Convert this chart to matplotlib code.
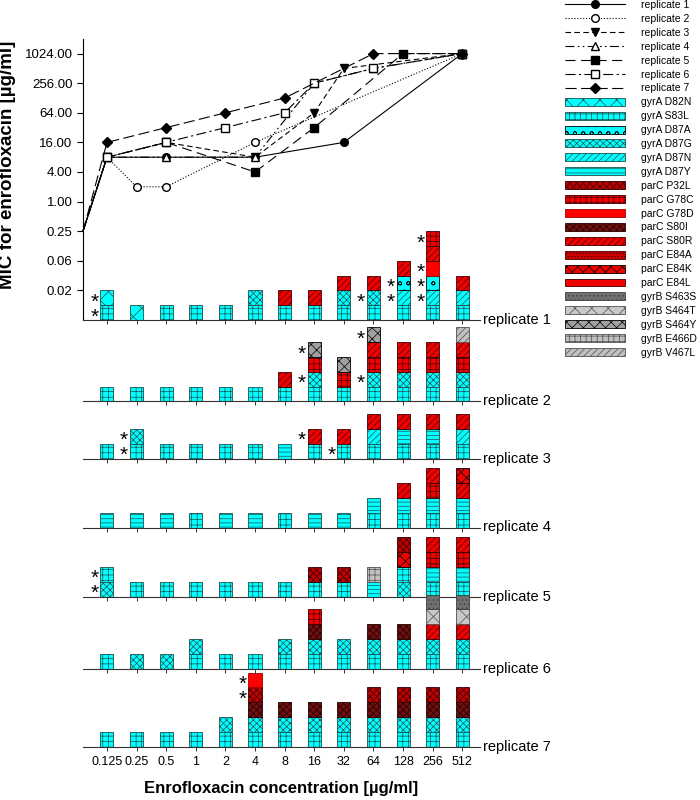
import matplotlib
matplotlib.use('Agg')
import matplotlib.pyplot as plt
import matplotlib.patches as mpatches
from matplotlib.lines import Line2D

plt.rcParams['font.family'] = ['Liberation Sans', 'DejaVu Sans']
plt.rcParams['hatch.linewidth'] = 0.5

# ---- data ----
conc_labels = ['0.125', '0.25', '0.5', '1', '2', '4', '8', '16', '32', '64', '128', '256', '512']
start_mic = 0.25

# MIC for enrofloxacin per replicate: (concentration index, MIC)
mic_x_rep1 = [0, 2, 5, 8, 12]
mic_y_rep1 = [8, 8, 8, 16, 1024]
mic_x_rep2 = [0, 1, 2, 5, 12]
mic_y_rep2 = [8, 2, 2, 16, 1024]
mic_x_rep3 = [0, 2, 5, 7, 8, 12]
mic_y_rep3 = [8, 16, 8, 64, 512, 1024]
mic_x_rep4 = [0, 2, 5, 7, 9, 12]
mic_y_rep4 = [8, 8, 8, 256, 512, 1024]
mic_x_rep5 = [0, 2, 5, 7, 10, 12]
mic_y_rep5 = [8, 16, 4, 32, 1024, 1024]
mic_x_rep6 = [0, 2, 4, 6, 7, 9, 12]
mic_y_rep6 = [8, 16, 32, 64, 256, 512, 1024]
mic_x_rep7 = [0, 2, 4, 6, 9, 12]
mic_y_rep7 = [16, 32, 64, 128, 1024, 1024]

genes = ['gyrA'] * 6 + ['parC'] * 8 + ['gyrB'] * 5
mutations = ['D82N', 'S83L', 'D87A', 'D87G', 'D87N', 'D87Y',
             'P32L', 'G78C', 'G78D', 'S80I', 'S80R', 'E84A', 'E84K', 'E84L',
             'S463S', 'S464T', 'S464Y', 'E466D', 'V467L']

# stacked mutations per concentration, bottom to top
stacks_rep1 = [['S83L', 'D82N'], ['D82N'], ['S83L'], ['S83L'], ['S83L'],
               ['S83L', 'D87G'], ['S83L', 'S80R'], ['S83L', 'S80R'],
               ['S83L', 'D87G', 'S80R'], ['S83L', 'D87G', 'S80R'],
               ['S83L', 'D87N', 'D87A', 'S80R'],
               ['S83L', 'D87N', 'D87A', 'G78D', 'S80R', 'G78C'],
               ['S83L', 'D87N', 'S80R']]
stacks_rep2 = [['S83L'], ['S83L'], ['S83L'], ['S83L'], ['S83L'], ['S83L'],
               ['S83L', 'S80R'], ['S83L', 'D87G', 'G78C', 'S464Y'],
               ['S83L', 'G78C', 'S464Y'], ['S83L', 'D87G', 'G78C', 'S80R', 'S464Y'],
               ['S83L', 'D87G', 'G78C', 'S80R'], ['S83L', 'D87G', 'G78C', 'S80R'],
               ['S83L', 'D87G', 'G78C', 'S80R', 'V467L']]
stacks_rep3 = [['S83L'], ['S83L', 'D87G'], ['S83L'], ['S83L'], ['S83L'], ['S83L'],
               ['D87Y'], ['S83L', 'S80R'], ['S83L', 'S80R'],
               ['S83L', 'D87N', 'S80R'], ['S83L', 'D87Y', 'S80R'],
               ['S83L', 'D87Y', 'S80R'], ['S83L', 'D87N', 'S80R']]
stacks_rep4 = [['D87Y'], ['D87Y'], ['D87Y'], ['S83L'], ['D87Y'], ['D87Y'],
               ['S83L'], ['D87Y'], ['D87Y'], ['S83L', 'D87Y'],
               ['S83L', 'D87Y', 'S80R'], ['S83L', 'D87Y', 'G78C', 'S80R'],
               ['S83L', 'D87Y', 'S80R', 'E84K']]
stacks_rep5 = [['D87G', 'S83L'], ['S83L'], ['S83L'], ['S83L'], ['S83L'], ['S83L'],
               ['S83L'], ['S83L', 'P32L'], ['S83L', 'P32L'], ['D87Y', 'E466D'],
               ['D87G', 'S83L', 'E84K', 'P32L'], ['S83L', 'D87Y', 'G78C', 'S80R'],
               ['S83L', 'D87Y', 'G78C', 'S80R']]
stacks_rep6 = [['S83L'], ['D87G'], ['D87G'], ['S83L', 'D87G'], ['S83L'], ['S83L'],
               ['S83L', 'D87G'], ['S83L', 'D87G', 'S80I', 'G78C'], ['S83L', 'D87G'],
               ['S83L', 'D87G', 'S80I'], ['S83L', 'D87G', 'S80I'],
               ['S83L', 'D87G', 'S80R', 'S464T', 'S463S'],
               ['S83L', 'D87G', 'S80R', 'S464T', 'S463S']]
stacks_rep7 = [['S83L'], ['S83L'], ['S83L'], ['S83L'], ['S83L', 'D87G'],
               ['S83L', 'D87G', 'S80I', 'P32L', 'G78D'],
               ['S83L', 'D87G', 'S80I'], ['S83L', 'D87G', 'S80I'], ['S83L', 'D87G', 'S80I'],
               ['S83L', 'D87G', 'S80I', 'P32L'], ['S83L', 'D87G', 'S80I', 'P32L'],
               ['S83L', 'D87G', 'S80I', 'P32L'], ['S83L', 'D87G', 'S80I', 'P32L']]

# asterisks: (concentration index, segment index)
stars_rep1 = [(0, 0), (0, 1), (9, 1), (10, 1), (10, 2), (11, 1), (11, 2), (11, 3), (11, 5)]
stars_rep2 = [(7, 1), (7, 3), (9, 1), (9, 4)]
stars_rep3 = [(1, 0), (1, 1), (7, 1), (8, 0)]
stars_rep4 = []
stars_rep5 = [(0, 0), (0, 1)]
stars_rep6 = []
stars_rep7 = [(5, 3), (5, 4)]

# ---- styles ----
cyan, red = '#00ffff', '#f00000'
mut_style = {
    'D82N': (cyan, '#1d4f4f', 'xx'),
    'S83L': (cyan, '#1d4f4f', '+++'),
    'D87A': (cyan, '#000000', 'oo'),
    'D87G': (cyan, '#1d4f4f', 'xxxxx'),
    'D87N': (cyan, '#1d4f4f', '/////'),
    'D87Y': (cyan, '#1d4f4f', '----'),
    'P32L': ('#c00000', '#300000', 'xxxxx'),
    'G78C': (red, '#400000', '+++'),
    'G78D': ('#ff0000', '#a00000', ''),
    'S80I': ('#701010', '#200000', 'xxxxx'),
    'S80R': (red, '#400000', '/////'),
    'E84A': ('#d00000', '#400000', '.....'),
    'E84K': (red, '#000000', 'xxx'),
    'E84L': (red, '#400000', '-'),
    'S463S': ('#707070', '#404040', '....'),
    'S464T': ('#c8c8c8', '#505050', 'xx'),
    'S464Y': ('#a0a0a0', '#000000', 'xxx'),
    'E466D': ('#c0c0c0', '#505050', '+++'),
    'V467L': ('#c0c0c0', '#505050', '/////'),
}

line_styles = [
    ('-', 'o', 'k'),
    (':', 'o', 'w'),
    ((0, (5, 3)), 'v', 'k'),
    ((0, (8, 3, 1.5, 3, 1.5, 3)), '^', 'w'),
    ((0, (9, 5)), 's', 'k'),
    ((0, (9, 3, 2, 3)), 's', 'w'),
    ((0, (10, 4)), 'D', 'k'),
]

W, H = 700, 800
x_lo, x_hi = -0.81, 12.6
left_px, right_px = 83, 480
unit_px = 14.8
rep_base_px = [320, 401.5, 458.5, 527.5, 596.5, 668.5, 746.5]
bar_w = 0.44

fig = plt.figure(figsize=(7, 8), dpi=100)
ax_l = left_px / W
ax_w = (right_px - left_px) / W

# ---- MIC line chart ----
ax_mic = fig.add_axes([ax_l, 1 - rep_base_px[0] / H, ax_w, 19 * unit_px / H])
ax_mic.patch.set_visible(False)
ax_mic.set_yscale('log', base=2)
ax_mic.set_ylim(2 ** -8, 2 ** 11)
ax_mic.set_xlim(x_lo, x_hi)
mic_xs = [mic_x_rep1, mic_x_rep2, mic_x_rep3, mic_x_rep4, mic_x_rep5, mic_x_rep6, mic_x_rep7]
mic_ys = [mic_y_rep1, mic_y_rep2, mic_y_rep3, mic_y_rep4, mic_y_rep5, mic_y_rep6, mic_y_rep7]
handles = []
labels = []
for r in range(7):
    ls, mk, mfc = line_styles[r]
    xs = [x_lo] + mic_xs[r]
    ys = [start_mic] + mic_ys[r]
    ms = 5.5 if mk != 'D' else 4.8
    ax_mic.plot(xs, ys, color='k', lw=0.8, ls=ls, marker=mk, mfc=mfc, mec='k',
                ms=ms, markevery=slice(1, None), clip_on=False, zorder=3)
    handles.append(Line2D([], [], color='k', lw=0.8, ls=ls, marker=mk, mfc=mfc, mec='k', ms=ms))
    labels.append('replicate %d' % (r + 1))
yt = [2 ** k for k in range(-6, 11, 2)]
ax_mic.set_yticks(yt)
ax_mic.set_yticklabels(['%.2f' % v for v in yt], fontsize=9.5)
ax_mic.minorticks_off()
ax_mic.tick_params(axis='y', direction='out', length=4, width=0.8)
ax_mic.set_xticks([])
for s in ['top', 'right', 'bottom']:
    ax_mic.spines[s].set_visible(False)
ax_mic.spines['left'].set_linewidth(0.8)
ax_mic.set_ylabel('MIC for enrofloxacin [µg/ml]', fontsize=13.5, fontweight='bold')
ax_mic.yaxis.set_label_coords(-0.168, 0.55)

# ---- stacked mutation bars ----
all_stacks = [stacks_rep1, stacks_rep2, stacks_rep3, stacks_rep4, stacks_rep5, stacks_rep6, stacks_rep7]
all_stars = [stars_rep1, stars_rep2, stars_rep3, stars_rep4, stars_rep5, stars_rep6, stars_rep7]
n_units = 7
for r in range(7):
    ax = fig.add_axes([ax_l, 1 - rep_base_px[r] / H, ax_w, n_units * unit_px / H])
    ax.patch.set_visible(False)
    ax.set_xlim(x_lo, x_hi)
    ax.set_ylim(0, n_units)
    for i, stack in enumerate(all_stacks[r]):
        for k, m in enumerate(stack):
            fc, hc, hatch = mut_style[m]
            ax.bar(i, 1, bottom=k, width=bar_w, color=fc, edgecolor=hc, hatch=hatch,
                   lw=0.6, zorder=2)
    for i, k in all_stars[r]:
        ax.text(i - 0.42, k + 0.2, '*', fontsize=15, ha='center', va='center', zorder=4)
    for s in ['top', 'right', 'left']:
        ax.spines[s].set_visible(False)
    ax.spines['bottom'].set_linewidth(0.8)
    ax.spines['bottom'].set_color('#333333')
    ax.set_yticks([])
    ax.set_xticks(range(len(conc_labels)))
    ax.tick_params(axis='x', direction='out', length=3, width=0.7, color='#333333')
    if r == 6:
        ax.set_xticklabels(conc_labels, fontsize=9)
        ax.set_xlabel('Enrofloxacin concentration [µg/ml]', fontsize=12, fontweight='bold', labelpad=10)
    else:
        ax.set_xticklabels([])
    ax.text(x_hi + 0.1, 0, 'replicate %d' % (r + 1), fontsize=10.5, ha='left', va='center')

for m, g in zip(mutations, genes):
    fc, hc, hatch = mut_style[m]
    handles.append(mpatches.Patch(facecolor=fc, edgecolor=hc, hatch=hatch, lw=0.6))
    labels.append(g + ' ' + m)

fig.legend(handles, labels, loc='upper left', bbox_to_anchor=(565 / W, 1.0), frameon=False,
           fontsize=7.5, handlelength=5.8, handletextpad=1.5, labelspacing=0.375,
           borderpad=0, borderaxespad=0, handleheight=0.8)

fig.savefig('out.png', dpi=100)
